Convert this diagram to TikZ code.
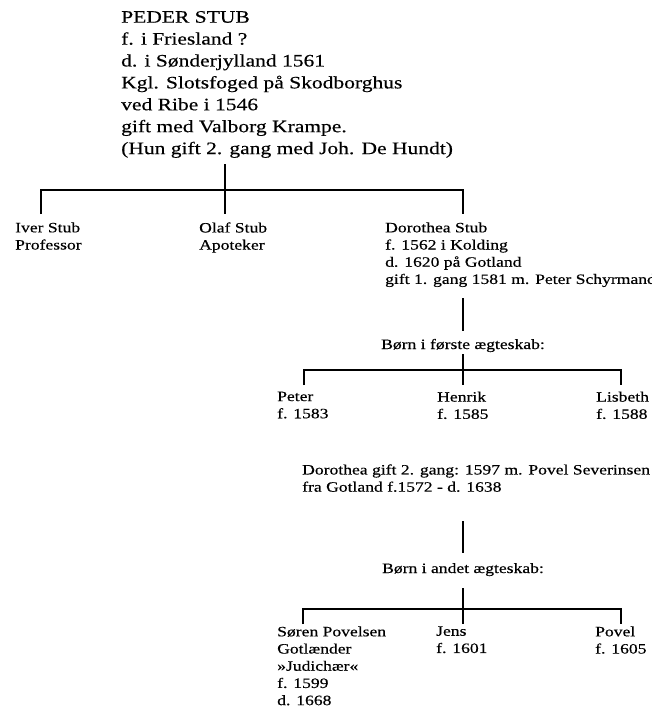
\documentclass[tikz,border=0pt]{standalone}
\usepackage{fontspec}
\setmainfont{Liberation Serif}[FakeStretch=1.23,FakeBold=0.4]
\begin{document}
\begin{tikzpicture}[x=1pt,y=-1pt]
% Stamtavle: Peder Stub og hans efterkommere
\tikzstyle{toptext} = [anchor=north west, inner sep=0pt, align=left, font=\fontsize{17.5}{21.9}\selectfont]
\tikzstyle{kidtext} = [anchor=north west, inner sep=0pt, align=left, font=\fontsize{14.3}{17.2}\selectfont]
\tikzstyle{midtext} = [anchor=base, inner sep=0pt, font=\fontsize{14.3}{17.2}\selectfont]
\tikzstyle{stem} = [line width=1.2pt]
\useasboundingbox (0,0) rectangle (651,709);
\node (peder)[toptext] at (121,10.9) {PEDER STUB\\f. i Friesland ?\\d. i Sønderjylland 1561\\Kgl. Slotsfoged på Skodborghus\\ved Ribe i 1546\\gift med Valborg Krampe.\\(Hun gift 2. gang med Joh. De Hundt)};
\node (iver)[kidtext] at (15,222.2) {Iver Stub\\Professor};
\node (olaf)[kidtext] at (199,222.2) {Olaf Stub\\Apoteker};
\node (doro)[kidtext] at (385,222.2) {Dorothea Stub\\f. 1562 i Kolding\\d. 1620 på Gotland\\gift 1. gang 1581 m. Peter Schyrmand};
\node (first)[midtext] at (463,349) {Børn i første ægteskab:};
\node (peter)[kidtext] at (277,391.5) {Peter\\f. 1583};
\node (henrik)[kidtext] at (437,391.5) {Henrik\\f. 1585};
\node (lisbeth)[kidtext] at (596,391.5) {Lisbeth\\f. 1588};
\node (gift2)[kidtext] at (302,464.2) {Dorothea gift 2. gang: 1597 m. Povel Severinsen\\fra Gotland f.1572 - d. 1638};
\node (andet)[midtext] at (463,573) {Børn i andet ægteskab:};
\node (soren)[kidtext] at (277,626.2) {Søren Povelsen\\Gotlænder\\»Judichær«\\f. 1599\\d. 1668};
\node (jens)[kidtext] at (436,626.2) {Jens\\f. 1601};
\node (povel)[kidtext] at (595,626.2) {Povel\\f. 1605};
% forbindelser
\coordinate (a0) at (225,164);
\coordinate (a1) at (225,190);
\coordinate (iv) at (41,214);
\coordinate (ol) at (225,214);
\coordinate (do) at (463,214);
\draw[stem] (a0) -- (a1);
\draw[stem] (iv) |- (a1) -| (do);
\draw[stem] (a1) -- (ol);
\coordinate (b0) at (463,298);
\coordinate (b1) at (463,331);
\draw[stem] (b0) -- (b1);
\coordinate (c0) at (463,354);
\coordinate (c1) at (463,370);
\coordinate (pe) at (304,385);
\coordinate (he) at (463,385);
\coordinate (li) at (621,385);
\draw[stem] (c0) -- (c1);
\draw[stem] (pe) |- (c1) -| (li);
\draw[stem] (c1) -- (he);
\coordinate (d0) at (463,521);
\coordinate (d1) at (463,553);
\draw[stem] (d0) -- (d1);
\coordinate (e0) at (463,588);
\coordinate (e1) at (463,609);
\coordinate (so) at (303,624);
\coordinate (je) at (463,624);
\coordinate (po) at (621,624);
\draw[stem] (e0) -- (e1);
\draw[stem] (so) |- (e1) -| (po);
\draw[stem] (e1) -- (je);
\end{tikzpicture}
\end{document}
